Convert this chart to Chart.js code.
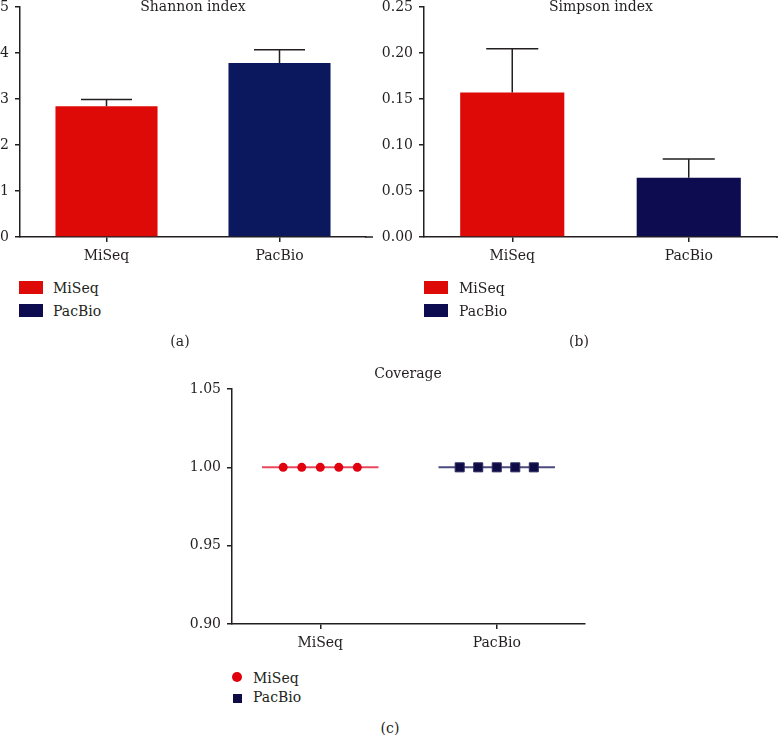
<!DOCTYPE html>
<html><head><meta charset="utf-8">
<script src="https://cdn.jsdelivr.net/npm/chart.js@4"></script>
<style>
body{margin:0;background:#fff;width:778px;height:737px;position:relative;overflow:hidden;font-family:"DejaVu Serif",serif;color:#231f20}
canvas{position:absolute}
.t{position:absolute;font-size:14px;line-height:16px;white-space:nowrap}
.c{transform:translateX(-50%)}
.box{position:absolute;width:24px;height:13px}
</style></head><body>
<canvas id="ca" width="390" height="292" style="left:0;top:-20px"></canvas>
<canvas id="cb" width="398" height="292" style="left:380px;top:-20px"></canvas>
<canvas id="cc" width="420" height="314" style="left:180px;top:340px"></canvas>

<div class="t c" style="left:193px;top:-2px">Shannon index</div>
<div class="t c" style="left:601px;top:-2px">Simpson index</div>
<div class="t c" style="left:408px;top:365px">Coverage</div>

<div class="box" style="left:19px;top:281px;background:#DD0A07"></div>
<div class="t" style="left:53px;top:280px">MiSeq</div>
<div class="box" style="left:19px;top:304px;background:#0E0C50"></div>
<div class="t" style="left:53px;top:303px">PacBio</div>

<div class="box" style="left:424px;top:281px;background:#DD0A07"></div>
<div class="t" style="left:459px;top:280px">MiSeq</div>
<div class="box" style="left:424px;top:304px;background:#0E0C50"></div>
<div class="t" style="left:459px;top:303px">PacBio</div>

<div style="position:absolute;left:232px;top:672px;width:10px;height:10px;border-radius:50%;background:#E0000E"></div>
<div class="t" style="left:253px;top:670px">MiSeq</div>
<div style="position:absolute;left:233px;top:694px;width:9px;height:9px;background:#0E0B45"></div>
<div class="t" style="left:253px;top:689px">PacBio</div>

<div class="t c" style="left:180px;top:333px">(a)</div>
<div class="t c" style="left:579px;top:333px">(b)</div>
<div class="t c" style="left:390px;top:720px">(c)</div>

<script>
const categories = ['MiSeq', 'PacBio'];
const shannonMean = [2.84, 3.78];
const shannonSE = [0.15, 0.29];
const simpsonMean = [0.157, 0.0645];
const simpsonSE = [0.0477, 0.0203];
const coverageMiSeq = [1.00, 1.00, 1.00, 1.00, 1.00];
const coveragePacBio = [1.00, 1.00, 1.00, 1.00, 1.00];
const coverageMean = [1.00, 1.00];
const shannonTicks = [0, 1, 2, 3, 4, 5];
const simpsonTicks = [0, 0.05, 0.10, 0.15, 0.20, 0.25];
const coverageTicks = [0.90, 0.95, 1.00, 1.05];

const ink = '#231f20';
const red = '#DD0A07';
const navyA = '#0C185E';
const navyB = '#0E0C50';
const font = {family: '"DejaVu Serif", serif', size: 14};
const jitter = [-0.21, -0.105, 0, 0.105, 0.21];
const meanHalf = 0.33;

const errorBarPlugin = {
  id: 'errorBars',
  afterDatasetsDraw(chart, args, opts) {
    if (!opts.errors) return;
    const meta = chart.getDatasetMeta(0);
    const ys = chart.scales.y;
    const ctx = chart.ctx;
    ctx.save();
    ctx.strokeStyle = ink; ctx.lineWidth = 1.5;
    meta.data.forEach((bar, i) => {
      const v = chart.data.datasets[0].data[i];
      const top = ys.getPixelForValue(v + opts.errors[i]);
      const base = ys.getPixelForValue(v);
      const hw = bar.width / 4;
      ctx.beginPath();
      ctx.moveTo(bar.x, base); ctx.lineTo(bar.x, top);
      ctx.moveTo(bar.x - hw, top); ctx.lineTo(bar.x + hw, top);
      ctx.stroke();
    });
    ctx.restore();
  }
};
const axisExtendPlugin = {
  id: 'axisExtend',
  afterDraw(chart, args, opts) {
    if (!opts.ext) return;
    const a = chart.chartArea, ctx = chart.ctx;
    const y = Math.round(chart.scales.x.top) ;
    ctx.save(); ctx.strokeStyle = ink; ctx.lineWidth = 1.5;
    ctx.beginPath(); ctx.moveTo(a.right - 1, y); ctx.lineTo(a.right + opts.ext, y); ctx.stroke();
    ctx.restore();
  }
};

function axisGrid() {
  return {display: true, drawOnChartArea: false, offset: false, tickLength: 5, color: ink, lineWidth: 1.5};
}

function barChart(id, means, ses, ticks, decimals, colors, yWidth, padRight, ext) {
  return new Chart(document.getElementById(id), {
    type: 'bar',
    data: {labels: categories, datasets: [{data: means, backgroundColor: colors, borderWidth: 0, barPercentage: 0.59, categoryPercentage: 1}]},
    options: {
      responsive: false, animation: false, events: [],
      layout: {padding: {top: 27, left: 0, right: padRight, bottom: 0}},
      plugins: {legend: {display: false}, tooltip: {enabled: false}, errorBars: {errors: ses}, axisExtend: {ext: ext}},
      scales: {
        x: {grid: axisGrid(), border: {display: true, color: ink, width: 1.5},
            ticks: {font, color: ink, padding: 6, maxRotation: 0},
            afterFit(s) { s.height = 35; }},
        y: {min: ticks[0], max: ticks[ticks.length - 1],
            afterBuildTicks(s) { s.ticks = ticks.map(v => ({value: v})); },
            ticks: {font, color: ink, padding: 6, callback: v => Number(v).toFixed(decimals)},
            grid: axisGrid(), border: {display: true, color: ink, width: 1.5},
            afterFit(s) { s.width = yWidth; }}
      }
    },
    plugins: [errorBarPlugin, axisExtendPlugin]
  });
}

barChart('ca', shannonMean, shannonSE, shannonTicks, 0, [red, navyA], 20, 24, 7);
barChart('cb', simpsonMean, simpsonSE, simpsonTicks, 2, [red, navyB], 44, 1, 1);

new Chart(document.getElementById('cc'), {
  type: 'scatter',
  data: {datasets: [
    {data: coverageMiSeq.map((v, i) => ({x: 0 + jitter[i], y: v})), pointStyle: 'circle', pointRadius: 4.5, backgroundColor: '#E0000E', borderWidth: 0},
    {data: coveragePacBio.map((v, i) => ({x: 1 + jitter[i], y: v})), pointStyle: 'rect', pointRadius: 6.4, backgroundColor: '#0E0B45', borderColor: '#2e2d62', borderWidth: 1},
    {type: 'line', data: [{x: 0 - meanHalf, y: coverageMean[0]}, {x: 0 + meanHalf, y: coverageMean[0]}], borderColor: '#E8485E', borderWidth: 2, pointRadius: 0},
    {type: 'line', data: [{x: 1 - meanHalf, y: coverageMean[1]}, {x: 1 + meanHalf, y: coverageMean[1]}], borderColor: '#4B4B7E', borderWidth: 2, pointRadius: 0}
  ]},
  options: {
    responsive: false, animation: false, events: [],
    layout: {padding: {top: 49, left: 0, right: 15, bottom: 0}},
    plugins: {legend: {display: false}, tooltip: {enabled: false}},
    scales: {
      x: {type: 'linear', min: -0.5, max: 1.5,
          afterBuildTicks(s) { s.ticks = categories.map((c, i) => ({value: i})); },
          ticks: {font, color: ink, padding: 6, callback: v => categories[v]},
          grid: axisGrid(), border: {display: true, color: ink, width: 1.5},
          afterFit(s) { s.height = 30; }},
      y: {min: coverageTicks[0], max: coverageTicks[coverageTicks.length - 1],
          afterBuildTicks(s) { s.ticks = coverageTicks.map(v => ({value: v})); },
          ticks: {font, color: ink, padding: 6, callback: v => Number(v).toFixed(2)},
          grid: axisGrid(), border: {display: true, color: ink, width: 1.5},
          afterFit(s) { s.width = 52; }}
    }
  }
});
</script>
</body></html>
